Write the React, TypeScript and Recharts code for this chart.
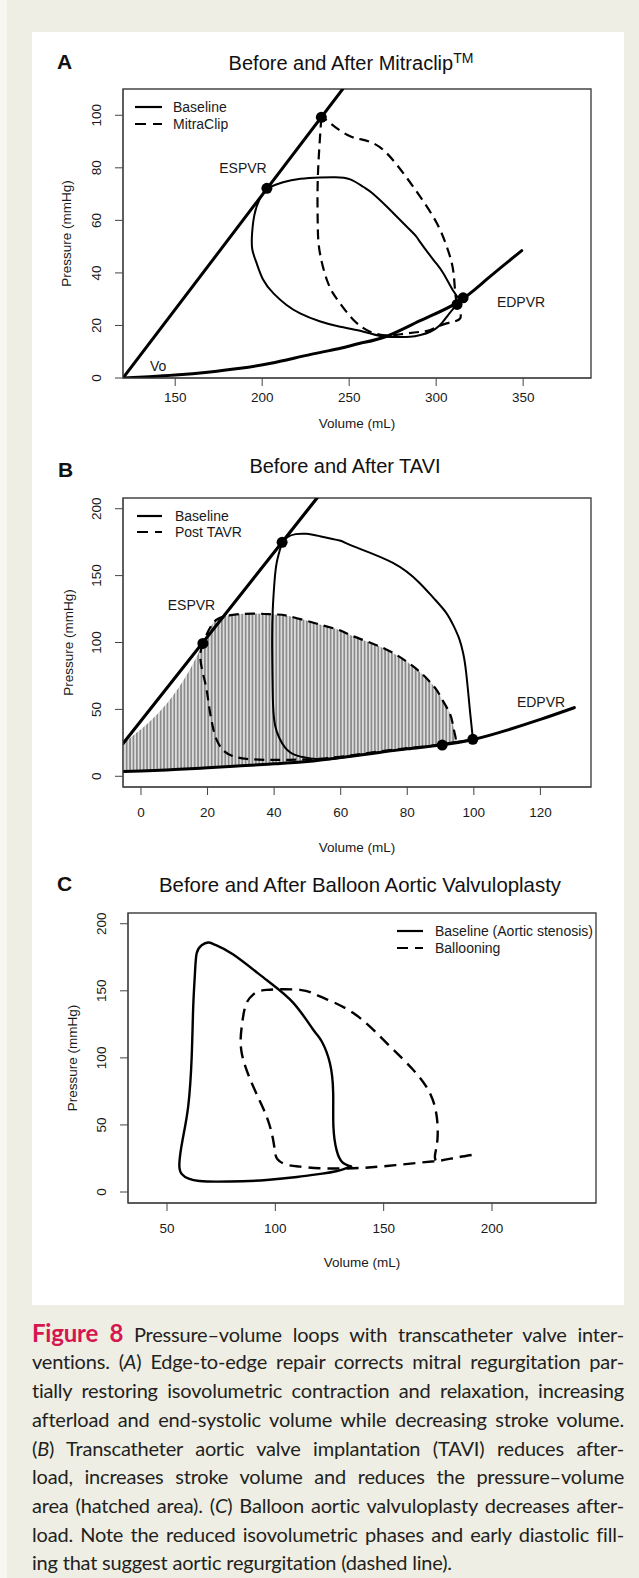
import React from 'react';
import { ComposedChart, Line, Scatter, XAxis, YAxis, ReferenceArea, Area } from 'recharts';

const FONT = "'Liberation Sans', Arial, Helvetica, sans-serif";
const CAP_FONT = "Lato, 'Open Sans', sans-serif";

type P = [number, number];

// ---------- Panel A : Before and After MitraClip ----------
const aXTicks = [150, 200, 250, 300, 350];
const aYTicks = [0, 20, 40, 60, 80, 100];
const aEspvr: P[] = [[120, 0], [246.3, 110]];
const aEdpvr: P[] = [[120, 0], [135, 0.5], [150, 1.1], [170, 2.3], [187.4, 3.7], [205, 5.6], [228, 9], [245, 11.3], [256.3, 13.2], [271.7, 15.9], [290.8, 21.8], [311.9, 28.6], [329, 37.5], [349.2, 48.5]];
const aBaseEject: P[] = [[314, 29.5], [310, 33], [304, 40], [298.4, 45], [290, 52.5], [286.9, 55.1], [278, 61], [271.7, 65.2], [263, 70.5], [258, 72.8], [250.6, 75.6], [242, 76.4], [233, 76.3], [222, 75.8], [212, 74.5], [202.7, 72.2]];
const aBaseFill: P[] = [[202.7, 72.2], [198.5, 68], [195.5, 62], [194.2, 55], [194.3, 49], [196.8, 43.7], [200.5, 37.5], [206.5, 32.2], [214, 27.8], [221.8, 24.6], [233, 21.6], [244.8, 19.5], [256.3, 18], [267.8, 16], [277, 15.6], [285, 15.7], [291, 16.4], [296.6, 17.6], [302, 20], [306.1, 23.3], [310, 26.5], [314, 29.5]];
const aClipEject: P[] = [[312, 28], [311, 32.2], [310, 39.9], [308.5, 45], [306.1, 50], [300.4, 58.9], [290.8, 69], [281.2, 77.9], [271.7, 85.5], [264, 89.3], [257, 90.8], [250.6, 92], [243, 95], [237.2, 98], [234, 99.2]];
const aClipFill: P[] = [[234, 99.2], [233, 89.3], [232.2, 80], [231.8, 70.3], [231.9, 60], [232.4, 51.3], [234.3, 44], [237.2, 37.3], [240.5, 32.5], [244.8, 28.4], [252.5, 22.1], [262, 17.6], [272, 16.2], [281, 16.8], [290, 17.5], [296.6, 18.3], [306, 20.8], [313.8, 22.7], [312, 28]];
const aDots: P[] = [[202.7, 72.2], [234, 99.2], [312, 28], [315.5, 30.5]];

// ---------- Panel B : Before and After TAVI ----------
const bXTicks = [0, 20, 40, 60, 80, 100, 120];
const bYTicks = [0, 50, 100, 150, 200];
const bEspvr: P[] = [[-5.4, 24.5], [52.9, 208]];
const bEdpvr: P[] = [[-5.4, 3.5], [0, 3.9], [10, 5], [20, 6.3], [30, 7.8], [40, 9.3], [50, 11], [60, 14], [70, 17.3], [80, 20.5], [90, 23.3], [100, 27.6], [110, 34.5], [120, 42.5], [130.2, 51.3]];
const bBaseEject: P[] = [[99.7, 27.6], [99.5, 33], [99, 45], [98.7, 52.5], [97.7, 77.4], [96.8, 92], [95.7, 102.2], [94, 112], [91.7, 122.2], [88, 133], [83.7, 144.5], [75.7, 159.5], [63.7, 172], [59.7, 176.2], [53.7, 179.5], [49.7, 181.2], [46.5, 181], [44, 178.8], [42.4, 174.9]];
const bBaseFill: P[] = [[42.4, 174.9], [40.8, 160], [40.1, 145], [39.6, 125], [39.4, 102], [39.5, 75], [39.7, 52.5], [40.3, 38], [41.5, 29], [43.3, 21.5], [46.7, 15.6], [52.7, 13], [58, 13.2], [64.7, 15.5], [75, 19], [85, 22], [92, 24.8], [99.7, 27.6]];
const bPostEject: P[] = [[90.5, 23.3], [93.5, 24.8], [94.6, 27], [94.2, 32.6], [93.6, 40], [92.7, 47.5], [90.8, 56], [88.7, 64.9], [85.5, 74], [81.7, 82.3], [73.7, 94.8], [63.7, 104.7], [59.7, 109.2], [53.7, 113.4], [44.7, 119.6], [40, 121], [33.7, 121.6], [27, 120.5], [22.7, 117], [20.3, 109], [18.6, 99.3]];
const bPostFill: P[] = [[18.6, 99.3], [17.8, 90], [18.6, 77], [19.7, 64.9], [20.6, 50], [21.5, 38], [22.6, 28], [24.7, 19.5], [27.5, 15.2], [31.7, 13], [38, 12.3], [44.7, 12.3], [52, 12.9], [59.7, 14.6], [70, 18], [80, 21], [90.5, 23.3]];
const bDots: P[] = [[42.4, 174.9], [18.6, 99.3], [90.5, 23.3], [99.7, 27.6]];
// hatched pressure-volume area after TAVR (volume, lower bound, upper bound)
const bHatchVol = [-5.4, 18.6, 20.3, 22.7, 27, 33.7, 40, 44.7, 53.7, 59.7, 63.7, 73.7, 81.7, 85.5, 88.7, 90.8, 92.7, 93.6, 94.2, 94.6];
const bHatchLow = [3.5, 6.2, 6.4, 6.7, 7.3, 8.3, 9.3, 10.1, 12.5, 14, 15.3, 18.5, 21, 22, 23, 23.6, 24.3, 24.7, 25, 25.3];
const bHatchTop = [24.5, 99.3, 109, 117, 120.5, 121.6, 121, 119.6, 113.4, 109.2, 104.7, 94.8, 82.3, 74, 64.9, 56, 47.5, 40, 32.6, 25.5];

// ---------- Panel C : Before and After Balloon Aortic Valvuloplasty ----------
const cXTicks = [50, 100, 150, 200];
const cYTicks = [0, 50, 100, 150, 200];
const cBase: P[] = [[135, 19], [131, 22], [128.3, 31], [126.8, 49], [126.7, 74], [125.2, 96], [121.5, 112], [117.5, 121], [108.3, 141], [96, 158], [80.6, 177], [72, 184.5], [69, 186], [66, 184], [63.7, 178], [62.9, 163], [62.1, 138], [61.4, 101], [59.8, 64], [57.2, 39], [55.7, 21], [56.8, 13.5], [60, 10], [65, 8.2], [72.9, 7.7], [85, 8], [96, 9], [110, 11.2], [120.6, 13.5], [128, 15.5], [135, 19]];
const cBall: P[] = [[190.6, 27.6], [183, 25.5], [176, 23.4], [166.8, 21.9], [151.4, 19.4], [136, 17.7], [120.6, 17.7], [111.4, 18.9], [105, 20.5], [101, 24.5], [99.8, 30], [99, 38.8], [96, 56.2], [89.8, 78.6], [84.5, 103.5], [84.5, 123.4], [86.5, 140], [90, 147.5], [96, 150.7], [111.4, 150.7], [120.6, 145.8], [136, 133.4], [151.4, 111], [163.7, 91], [171.4, 73.6], [174.5, 56.2], [174.8, 38.8], [173.7, 27.6], [174, 23.5]];

const pts = (a: P[]) => a.map(([v, p]) => ({ v, p }));
const hatchData = bHatchVol.map((v, i) => ({ v, range: [bHatchLow[i], bHatchTop[i]] }));

const AX = '#444';
const TXT = '#1a1a1a';

const yTick = (props: any) => {
  const { x, y, payload } = props;
  const tx = x - 11.9;
  return (
    <text x={tx} y={y} transform={`rotate(-90 ${tx} ${y})`} textAnchor="middle" fontSize={13.5} fill={TXT} fontFamily={FONT}>
      {payload.value}
    </text>
  );
};
const makeXTick = (dy: number) => (props: any) => {
  const { x, y, payload } = props;
  return (
    <text x={x} y={y + dy} textAnchor="middle" fontSize={13.5} fill={TXT} fontFamily={FONT}>
      {payload.value}
    </text>
  );
};
const dotShape = (props: any) => <circle cx={props.cx} cy={props.cy} r={5.5} fill="#000" />;

const curve = (data: P[], w: number, dash: string | undefined, key: string) => (
  <Line
    key={key}
    data={pts(data)}
    dataKey="p"
    type="natural"
    dot={false}
    activeDot={false}
    stroke="#000"
    strokeWidth={w}
    strokeDasharray={dash}
    strokeLinecap={dash ? 'butt' : 'round'}
    isAnimationActive={false}
    legendType="none"
  />
);

const axes = (xd: number[], yd: number[], xt: number[], yt: number[], yw: number, xdy: number) => [
  <XAxis key="x" type="number" dataKey="v" domain={xd} ticks={xt} interval={0} allowDataOverflow height={40} tickSize={8} tickMargin={2} stroke={AX} tick={makeXTick(xdy)} />,
  <YAxis key="y" type="number" dataKey="p" domain={yd} ticks={yt} interval={0} allowDataOverflow width={yw} tickSize={8} tickMargin={2} stroke={AX} tick={yTick} />,
  <ReferenceArea key="box" x1={xd[0]} x2={xd[1]} y1={yd[0]} y2={yd[1]} fill="none" fillOpacity={0} stroke={AX} strokeWidth={1.4} ifOverflow="visible" />,
];

const T = (p: any) => <text fontFamily={FONT} fill={TXT} {...p} />;

const legend = (x1: number, x2: number, tx: number, y1: number, y2: number, l1: string, l2: string) => (
  <g>
    <line x1={x1} x2={x2} y1={y1} y2={y1} stroke="#000" strokeWidth={2.2} />
    <line x1={x1} x2={x2} y1={y2} y2={y2} stroke="#000" strokeWidth={2.2} strokeDasharray="11 7" />
    <T x={tx} y={y1 + 4.9} fontSize={14}>{l1}</T>
    <T x={tx} y={y2 + 4.9} fontSize={14}>{l2}</T>
  </g>
);

const yTitle = (cx: number, cy: number) => (
  <T x={cx + 4.7} y={cy} transform={`rotate(-90 ${cx + 4.7} ${cy})`} textAnchor="middle" fontSize={13.5}>Pressure (mmHg)</T>
);

type Seg = { t: string; b?: boolean; i?: boolean };
const captionLines: Seg[][] = [
  [{ t: 'Figure 8', b: true }, { t: ' Pressure–volume loops with transcatheter valve inter-' }],
  [{ t: 'ventions. (' }, { t: 'A', i: true }, { t: ') Edge-to-edge repair corrects mitral regurgitation par-' }],
  [{ t: 'tially restoring isovolumetric contraction and relaxation, increasing' }],
  [{ t: 'afterload and end-systolic volume while decreasing stroke volume.' }],
  [{ t: '(' }, { t: 'B', i: true }, { t: ') Transcatheter aortic valve implantation (TAVI) reduces after-' }],
  [{ t: 'load, increases stroke volume and reduces the pressure–volume' }],
  [{ t: 'area (hatched area). (' }, { t: 'C', i: true }, { t: ') Balloon aortic valvuloplasty decreases after-' }],
  [{ t: 'load. Note the reduced isovolumetric phases and early diastolic fill-' }],
  [{ t: 'ing that suggest aortic regurgitation (dashed line).' }],
];

export default function App() {
  return (
    <div style={{ position: 'absolute', left: 0, top: 0, width: 639, height: 1578, overflow: 'hidden', background: '#eeeee4' }}>
      <svg width={639} height={1578} style={{ position: 'absolute', left: 0, top: 0 }}>
        <rect x={0} y={0} width={7} height={1578} fill="#f7f7f2" />
        <rect x={32} y={32} width={592} height={1273} fill="#fff" />

        {/* Panel A texts */}
        <T x={57} y={68.7} fontSize={21} fontWeight="bold" fill="#111">A</T>
        <T x={351} y={70} textAnchor="middle" fontSize={20} fill="#111">
          Before and After Mitraclip<tspan fontSize={14} dy={-7}>TM</tspan>
        </T>
        {yTitle(66.7, 233.5)}
        <T x={357} y={428} textAnchor="middle" fontSize={13.5}>Volume (mL)</T>
        <T x={243} y={172.7} textAnchor="middle" fontSize={14}>ESPVR</T>
        <T x={150} y={371} fontSize={14}>Vo</T>
        <T x={521} y={306.5} textAnchor="middle" fontSize={14}>EDPVR</T>
        {legend(135, 162, 173, 107, 124, 'Baseline', 'MitraClip')}

        {/* Panel B texts */}
        <T x={58} y={477} fontSize={21} fontWeight="bold" fill="#111">B</T>
        <T x={345} y={473} textAnchor="middle" fontSize={20} fill="#111">Before and After TAVI</T>
        {yTitle(68, 642.5)}
        <T x={357} y={851.7} textAnchor="middle" fontSize={13.5}>Volume (mL)</T>
        <T x={191.5} y={610} textAnchor="middle" fontSize={14}>ESPVR</T>
        <T x={541} y={706.5} textAnchor="middle" fontSize={14}>EDPVR</T>
        {legend(137, 162, 175, 516, 532, 'Baseline', 'Post TAVR')}

        {/* Panel C texts */}
        <T x={57} y={891} fontSize={21} fontWeight="bold" fill="#111">C</T>
        <T x={360} y={892} textAnchor="middle" fontSize={20.4} fill="#111">Before and After Balloon Aortic Valvuloplasty</T>
        {yTitle(72, 1058)}
        <T x={362} y={1266.7} textAnchor="middle" fontSize={13.5}>Volume (mL)</T>
        {legend(397, 423, 435, 931, 948, 'Baseline (Aortic stenosis)', 'Ballooning')}
      </svg>

      {/* Caption */}
      {captionLines.map((line, i) => (
        <div
          key={i}
          style={{
            position: 'absolute',
            left: 32,
            top: 1341 - 22.3 + 28.7 * i,
            width: 592,
            height: 28.7,
            fontFamily: CAP_FONT,
            fontSize: 20,
            lineHeight: '28.7px',
            letterSpacing: '-0.2px',
            color: '#231f20',
            textAlign: 'justify',
            textAlignLast: i < captionLines.length - 1 ? 'justify' : 'left',
          }}
        >
          {line.map((s, j) => (
            <span key={j} style={{ fontWeight: s.b ? 'bold' : undefined, fontStyle: s.i ? 'italic' : undefined, color: s.b ? '#d4174f' : undefined, fontSize: s.b ? 24 : undefined }}>
              {s.t}
            </span>
          ))}
        </div>
      ))}

      {/* Chart A */}
      <div style={{ position: 'absolute', left: 0, top: 0 }}>
        <ComposedChart width={639} height={418} margin={{ top: 89, right: 48, bottom: 0, left: 0 }}>
          {axes([120, 389], [0, 110], aXTicks, aYTicks, 123, 14.2)}
          {curve(aEdpvr, 3, undefined, 'aed')}
          {curve(aEspvr, 3, undefined, 'aes')}
          {curve(aBaseEject, 2, undefined, 'ab1')}
          {curve(aBaseFill, 2, undefined, 'ab2')}
          {curve(aClipEject, 2.2, '10 6', 'ac1')}
          {curve(aClipFill, 2.2, '10 6', 'ac2')}
          <Scatter data={pts(aDots)} dataKey="p" shape={dotShape} isAnimationActive={false} legendType="none" />
        </ComposedChart>
      </div>

      {/* Chart B */}
      <div style={{ position: 'absolute', left: 0, top: 440 }}>
        <ComposedChart width={639} height={387} margin={{ top: 58, right: 48, bottom: 0, left: 0 }}>
          <defs>
            <pattern id="hatchB" patternUnits="userSpaceOnUse" width={3.4} height={8}>
              <rect width={3.4} height={8} fill="#dcdcdc" />
              <rect width={1.7} height={8} fill="#8c8c8c" />
            </pattern>
          </defs>
          {axes([-5.4, 135.2], [-8, 208], bXTicks, bYTicks, 123, 19.7)}
          <Area data={hatchData} dataKey="range" type="monotone" stroke="none" fill="url(#hatchB)" fillOpacity={1} isAnimationActive={false} legendType="none" activeDot={false} />
          {curve(bEdpvr, 3, undefined, 'bed')}
          {curve(bEspvr, 3.2, undefined, 'bes')}
          {curve(bBaseEject, 2, undefined, 'bb1')}
          {curve(bBaseFill, 2, undefined, 'bb2')}
          {curve(bPostEject, 2.2, '10 6', 'bp1')}
          {curve(bPostFill, 2.2, '10 6', 'bp2')}
          <Scatter data={pts(bDots)} dataKey="p" shape={dotShape} isAnimationActive={false} legendType="none" />
        </ComposedChart>
      </div>

      {/* Chart C */}
      <div style={{ position: 'absolute', left: 0, top: 870 }}>
        <ComposedChart width={639} height={373} margin={{ top: 43, right: 43, bottom: 0, left: 0 }}>
          {axes([32, 248], [-8.2, 208], cXTicks, cYTicks, 128, 19.7)}
          {curve(cBase, 2.4, undefined, 'cb')}
          {curve(cBall, 2.4, '12 7', 'cd')}
        </ComposedChart>
      </div>
    </div>
  );
}
